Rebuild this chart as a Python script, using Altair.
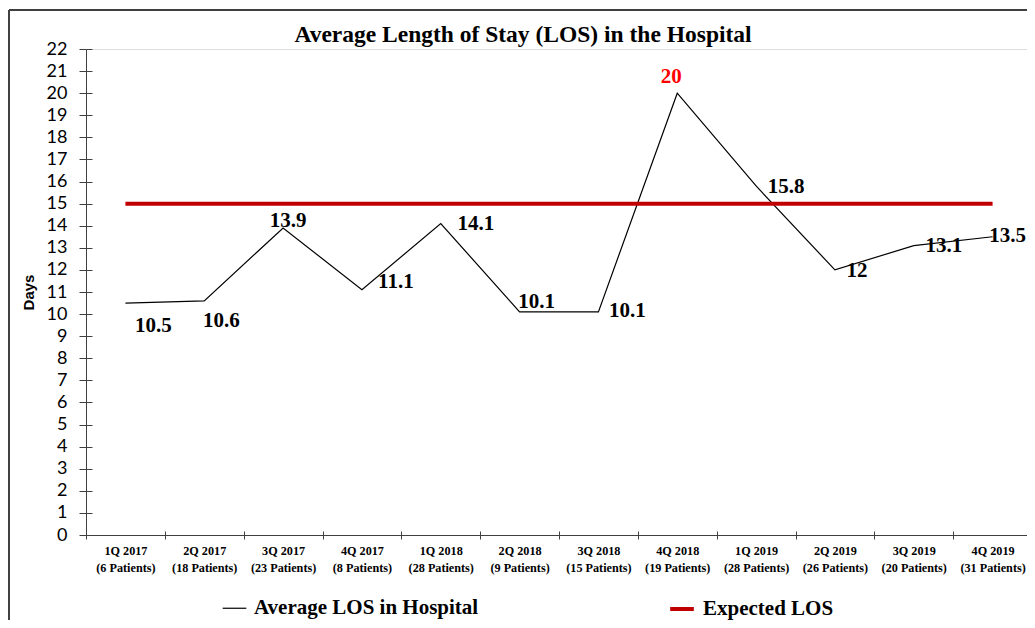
import altair as alt
import pandas as pd

quarters = ["1Q 2017", "2Q 2017", "3Q 2017", "4Q 2017", "1Q 2018", "2Q 2018",
            "3Q 2018", "4Q 2018", "1Q 2019", "2Q 2019", "3Q 2019", "4Q 2019"]
patients = [6, 18, 23, 8, 28, 9, 15, 19, 28, 26, 20, 31]
avg_los = [10.5, 10.6, 13.9, 11.1, 14.1, 10.1, 10.1, 20, 15.8, 12, 13.1, 13.5]
expected_los = [15, 15, 15, 15, 15, 15, 15, 15, 15, 15, 15, 15]

S_AVG = "Average LOS in Hospital"
S_EXP = "Expected LOS"

cats = [f"{q}|({p} Patients)" for q, p in zip(quarters, patients)]
rows = []
for c, v in zip(cats, avg_los):
    rows.append({"cat": c, "value": v, "series": S_AVG, "label": f"{v:g}"})
for c, v in zip(cats, expected_los):
    rows.append({"cat": c, "value": v, "series": S_EXP, "label": f"{v:g}"})
df = pd.DataFrame(rows)
df_avg = df[df.series == S_AVG]

SERIF = "Liberation Serif"
SANS = "Liberation Sans"
W, H = 946, 486
AX = "#404040"

xscale = alt.Scale(type="band", paddingInner=0, paddingOuter=0)
yscale = alt.Scale(domain=[0, 22], nice=False, zero=True)

x_main = alt.X("cat:N", sort=cats, bandPosition=0.5, scale=xscale,
               axis=alt.Axis(orient="bottom", title=None,
                             labelExpr="split(datum.label, '|')", labelAngle=0,
                             labelFont=SERIF, labelFontWeight="bold", labelFontSize=12.2,
                             labelColor="black", labelLineHeight=17, labelPadding=5,
                             ticks=True, tickSize=4, tickBand="extent", tickColor=AX,
                             domainColor=AX, labelLimit=300, grid=False))
y_main = alt.Y("value:Q", scale=yscale,
               axis=alt.Axis(orient="left", values=list(range(23)), title="Days",
                             titleFont=SANS, titleFontWeight="bold", titleFontSize=15,
                             titleColor="black", titleX=-58, titleY=H / 2,
                             titleAlign="center", titleBaseline="middle", titleAngle=270,
                             labelFont="Lato", labelFontSize=18, labelColor="black",
                             labelPadding=12, tickSize=7, tickColor=AX, domainColor=AX,
                             grid=False))

legend = alt.Legend(title=None, orient="none", legendX=136, legendY=546,
                    direction="horizontal", symbolType="stroke", symbolSize=560,
                    labelFont=SERIF, labelFontWeight="bold", labelFontSize=21,
                    labelColor="black", labelOffset=7, columnPadding=183,
                    labelLimit=400)

line = alt.Chart(df).mark_line().encode(
    x=x_main,
    y=y_main,
    color=alt.Color("series:N", scale=alt.Scale(domain=[S_AVG, S_EXP],
                                                range=["black", "#c00000"]),
                    legend=legend),
    strokeWidth=alt.StrokeWidth("series:N", scale=alt.Scale(domain=[S_AVG, S_EXP],
                                                            range=[1.2, 4]),
                                legend=legend),
)

# inward halves of the crossing tick marks
tick_layer = alt.Chart(df_avg).mark_point(opacity=0).encode(
    x=alt.X("cat:N", sort=cats, scale=xscale,
            axis=alt.Axis(orient="bottom", labels=False, domain=False, ticks=True,
                          tickSize=4, tickBand="extent", offset=-4, tickColor=AX,
                          title=None, grid=False)),
    y=alt.Y("value:Q", scale=yscale,
            axis=alt.Axis(orient="left", values=list(range(23)), labels=False,
                          domain=False, ticks=True, tickSize=6, offset=-6,
                          tickColor=AX, title=None, grid=False)),
)

# outer chart frame (left and top edges; the others fall outside the picture)
frame_left = alt.Chart(df_avg).mark_rule(color=AX, strokeWidth=1).encode(
    x=alt.value(-77), y=alt.value(-39), y2=alt.value(H + 200)
)
frame_top = alt.Chart(df_avg).mark_rule(color=AX, strokeWidth=1).encode(
    x=alt.value(-77), x2=alt.value(W + 60), y=alt.value(-39)
)

# label offsets (style only)
label_dx = [28, 17, 5, 34, 35, 17, 29, -6, 30, 22, 30, 15]
label_dy = [23, 20, -7, -8, 0, -10, -1, -16, 1, 1, 0, -1]
texts = []
for i, c in enumerate(cats):
    col = "#ff0000" if avg_los[i] == max(avg_los) else "black"
    t = alt.Chart(df_avg).transform_filter(alt.datum.cat == c).mark_text(
        font=SERIF, fontWeight="bold", fontSize=21, color=col,
        dx=label_dx[i], dy=label_dy[i], baseline="middle", align="center"
    ).encode(
        x=alt.X("cat:N", sort=cats, bandPosition=0.5, scale=xscale, axis=None),
        y=alt.Y("value:Q", scale=yscale, axis=None),
        text="label:N",
    )
    texts.append(t)

chart = alt.layer(frame_left, frame_top, line, tick_layer, *texts).resolve_axis(
    x="independent", y="independent"
).properties(
    width=W, height=H,
    autosize="none",
    padding={"left": 78, "top": 41, "right": -5, "bottom": 85},
    title=alt.TitleParams("Average Length of Stay (LOS) in the Hospital",
                          font=SERIF, fontSize=23.5, fontWeight="bold", color="black",
                          anchor="middle", frame="group", dx=-36, dy=61, offset=5,
                          baseline="alphabetic"),
).configure_view(stroke=None).configure(background="white")

chart.save("out.html", embed_options={"renderer": "svg", "actions": False})
